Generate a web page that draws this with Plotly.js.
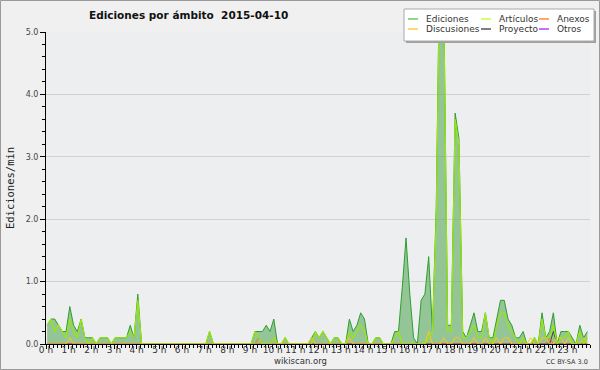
<!DOCTYPE html>
<html><head><meta charset="utf-8">
<script src="https://cdn.plot.ly/plotly-3.0.1.min.js"></script>
<style>html,body{margin:0;padding:0;background:#f0f0f0}#chart{width:600px;height:370px}</style>
</head><body><div id="chart"></div>
<script>
// 10-minute samples (edits per minute), 144 per day
const ediciones = [
0.3,0.4,0.4,0.3,0.2,0.2, 0.6,0.3,0.2,0.4,0.1,0.1, 0.1,0.0,0.1,0.1,0.1,0.0, 0.1,0.1,0.1,0.1,0.3,0.1,
0.8,0,0,0,0,0, 0,0,0,0,0,0, 0,0,0,0,0,0, 0,0.2,0,0,0,0,
0,0,0,0,0,0, 0,0.2,0.2,0.2,0.3,0.2, 0.4,0,0,0.1,0,0, 0,0,0,0,0.1,0.2,
0.1,0.2,0.1,0,0.1,0.1, 0,0,0.4,0.2,0.3,0.5, 0.4,0,0,0.1,0.1,0, 0,0,0.2,0.2,0.9,1.7,
0.8,0.1,0,0.7,0.8,1.4, 0.2,2.2,6.5,5.5,0.3,0.3, 3.7,3.3,0.2,0.1,0.3,0.5, 0.2,0.2,0.5,0.1,0.1,0.4,
0.7,0.7,0.4,0.3,0.1,0.1, 0.2,0,0,0.1,0,0.5, 0.1,0.2,0.5,0,0.2,0.2, 0.2,0.1,0,0.3,0.1,0.2
];
const articulos = [
0.3,0.4,0.2,0.3,0.2,0.1, 0.4,0.2,0.1,0.4,0.1,0.0, 0.1,0,0.1,0.1,0.1,0, 0.1,0.1,0.1,0.1,0.2,0.1,
0.7,0,0,0,0,0, 0,0,0,0,0,0, 0,0,0,0,0,0, 0,0.2,0,0,0,0,
0,0,0,0,0,0, 0,0.2,0.1,0,0,0, 0.1,0,0,0.1,0,0, 0,0,0,0,0,0.2,
0.1,0.2,0.1,0,0.1,0.1, 0,0,0.2,0.1,0.2,0.3, 0.2,0,0,0.1,0.1,0, 0,0,0.1,0.2,0,0,
0,0,0,0,0,0.1, 0.2,2.0,6.3,5.3,0.2,0.2, 3.6,3.2,0.1,0.1,0.2,0.3, 0.1,0.1,0.5,0.1,0,0.3,
0.5,0.5,0.3,0.2,0.1,0, 0.1,0,0,0.1,0,0.4, 0.1,0.1,0.3,0,0.1,0.1, 0.2,0,0,0.2,0,0.1
];
const discusiones = new Array(144).fill(0);
const discusionesPeaks = {6:0.1,70:0.1,80:0.1,101:0.2,105:0.1,108:0.1,109:0.1,113:0.1,116:0.1,119:0.1,121:0.1,122:0.1,128:0.1,131:0.1,132:0.1,135:0.1,136:0.1,138:0.1,142:0.1};
for (const k in discusionesPeaks) discusiones[+k] = discusionesPeaks[k];
const anexos = new Array(144).fill(0); anexos[56]=0.1; anexos[133]=0.1;
const proyecto = new Array(144).fill(0); proyecto[134]=0.2;
const otros = new Array(144).fill(0);

const hourLabels = Array.from({length:24},(_,h)=>h+' h');
const seriesNames = ['Ediciones','Artículos','Anexos','Discusiones','Proyecto','Otros'];
const seriesColors = ['#2f9e2f','#9be60a','#ff6633','#ffc61a','#444444','#9933ff'];
const legendColors = ['#66cc66','#ccff33','#ff8844','#ffcc44','#555555','#aa44ff'];

const STEP_MIN = 10, OFFSET = 0.3;
const xs = ediciones.map((_,i)=>(i+OFFSET)*STEP_MIN/60);

const W=600,H=370, L=46,R=10,T=32,B=26;
const pw=W-L-R, ph=H-T-B;
const px=x=>(x-L)/pw, py=y=>(H-B-y)/ph;

function line(y,color,w){return {x:xs,y:y,type:'scatter',mode:'lines',line:{color:color,width:w||1,shape:'linear'},hoverinfo:'skip',showlegend:false};}
const traces = [
  {x:xs,y:ediciones,type:'scatter',mode:'lines',fill:'tozeroy',fillcolor:'rgba(90,170,90,0.6)',line:{color:'#2f9e2f',width:1},showlegend:false},
  line(otros,seriesColors[5]),
  line(proyecto,seriesColors[4]),
  line(anexos,seriesColors[2]),
  line(discusiones,seriesColors[3]),
  line(articulos,seriesColors[1],1.2)
];

const shapes=[], ann=[];
// legend box
shapes.push({type:'rect',xref:'paper',yref:'paper',x0:px(406),x1:px(596),y0:py(43),y1:py(11),fillcolor:'#a0a0a0',line:{width:0}});
shapes.push({type:'rect',xref:'paper',yref:'paper',x0:px(404),x1:px(594),y0:py(41),y1:py(9),fillcolor:'#ffffff',line:{color:'#aaaaaa',width:1}});
const colX=[408,481,539], rowY=[19,29];
const order=[[0,1,2],[3,4,5]];
order.forEach((row,r)=>row.forEach((s,c)=>{
  shapes.push({type:'line',xref:'paper',yref:'paper',x0:px(colX[c]),x1:px(colX[c]+10),y0:py(rowY[r]),y1:py(rowY[r]),line:{color:legendColors[s],width:1.5}});
  ann.push({xref:'paper',yref:'paper',x:px(colX[c]+16),y:py(rowY[r]),xanchor:'left',yanchor:'middle',text:seriesNames[s],showarrow:false,font:{family:'DejaVu Sans',size:9,color:'#333'}});
}));
// frame
shapes.push({type:'rect',xref:'paper',yref:'paper',x0:px(0.5),x1:px(599.5),y0:py(369.5),y1:py(0.5),line:{color:'#9a9a9a',width:1},layer:'below'});

ann.push({xref:'paper',yref:'paper',x:px(188.5),y:py(15),text:'<b>Ediciones por ámbito  2015-04-10</b>',showarrow:false,xanchor:'center',yanchor:'middle',font:{family:'DejaVu Sans',size:10.5,color:'#111'}});
ann.push({xref:'paper',yref:'paper',x:px(300),y:py(361),text:'wikiscan.org',showarrow:false,xanchor:'center',yanchor:'middle',font:{family:'DejaVu Sans',size:8.5,color:'#333'}});
ann.push({xref:'paper',yref:'paper',x:px(590),y:py(362),text:'CC BY-SA 3.0',showarrow:false,xanchor:'right',yanchor:'middle',font:{family:'DejaVu Sans',size:6.5,color:'#333'}});

const layout={
  width:W,height:H,margin:{l:L,r:R,t:T,b:B,pad:0},
  paper_bgcolor:'#f0f0f0',plot_bgcolor:'#eceef0',
  showlegend:false,
  xaxis:{range:[0,24],tickmode:'array',tickvals:hourLabels.map((_,h)=>h),ticktext:hourLabels,ticks:'outside',ticklen:4,tickcolor:'#000',tickwidth:1,
    ticklabelstandoff:-7,
    showline:true,linecolor:'#000',linewidth:1,showgrid:false,zeroline:false,
    tickfont:{family:'DejaVu Sans',size:9,color:'#333'},
    minor:{dtick:1/6,tick0:0,ticks:'outside',ticklen:3,tickcolor:'#000',showgrid:false}},
  yaxis:{range:[0,5],dtick:1,tickformat:'.1f',ticks:'outside',ticklen:5,tickcolor:'#000',showline:true,linecolor:'#000',linewidth:1,
    gridcolor:'#d2d2d2',gridwidth:1,zeroline:false,
    tickfont:{family:'DejaVu Sans',size:8,color:'#444'},
    minor:{dtick:0.2,ticks:'outside',ticklen:3,tickcolor:'#000',showgrid:false},
    title:{text:'Ediciones/min',standoff:8,font:{family:'DejaVu Sans Mono',size:10.5,color:'#222'}}},
  shapes:shapes,annotations:ann
};
Plotly.newPlot('chart',traces,layout,{staticPlot:true,displayModeBar:false});
</script></body></html>
